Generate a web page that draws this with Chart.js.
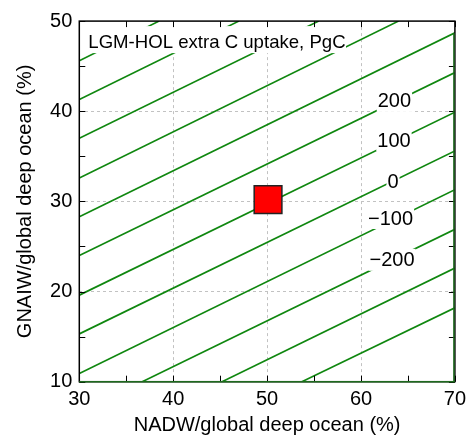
<!DOCTYPE html>
<html>
<head>
<meta charset="utf-8">
<script src="https://cdn.jsdelivr.net/npm/chart.js@4"></script>
<style>
html, body { margin: 0; padding: 0; background: #fff; }
canvas { display: block; }
</style>
</head>
<body>
<canvas id="myChart" width="476" height="437"></canvas>
<script>
var levels     = [700, 600, 500, 400, 300, 200, 100, 0, -100, -200, -300, -400];
var lineStartX = [30, 30, 30, 30, 30, 30, 30, 30, 30, 36.7, 45.2, 53.7];
var lineStartY = [45.6, 41.3, 37.0, 32.6, 28.3, 24.0, 19.6, 15.3, 10.9, 10, 10, 10];
var lineEndX   = [38.5, 47.0, 55.5, 64.0, 70, 70, 70, 70, 70, 70, 70, 70];
var lineEndY   = [50, 50, 50, 50, 48.7, 44.3, 39.9, 35.6, 31.3, 26.9, 22.6, 18.2];

// inline contour labels
var labelText = ['200', '100', '0', '\u2212100', '\u2212200'];
var labelX = [63.56, 63.51, 63.41, 63.15, 63.3];
var labelY = [41.15, 36.78, 32.25, 28.16, 23.52];

// red square (model result)
var markX = [50.1];
var markY = [30.2];

// axis ticks
var xTicks = [30, 40, 50, 60, 70];
var yTicks = [10, 20, 30, 40, 50];
var xMinor = [35, 45, 55, 65];
var yMinor = [15, 25, 35, 45];

var titleText = 'LGM-HOL extra C uptake, PgC';
var fontFam = '"Liberation Sans", Arial, Helvetica, sans-serif';
var green = '#0f870f';

var datasets = [{
    type: 'scatter',
    data: markX.map(function (x, i) { return { x: x, y: markY[i] }; }),
    pointStyle: 'rect',
    pointRadius: 19.6,
    pointBackgroundColor: '#ff0000',
    pointBorderColor: '#222',
    pointBorderWidth: 1.5,
    order: 0
}];

levels.forEach(function (lev, i) {
    datasets.push({
        type: 'line',
        label: String(lev),
        data: [{ x: lineStartX[i], y: lineStartY[i] }, { x: lineEndX[i], y: lineEndY[i] }],
        borderColor: green,
        borderWidth: 1.7,
        pointRadius: 0,
        fill: false,
        order: 1
    });
});

function gridColor(ctx, lo, hi) {
    var v = ctx.tick ? ctx.tick.value : null;
    if (v === null || v <= lo || v >= hi) return 'rgba(0,0,0,0)';
    return '#c2c2c2';
}

// white boxes + text for the labels, drawn over the lines
var labelPlugin = {
    id: 'labels',
    afterDatasetsDraw: function (chart) {
        var c = chart.ctx, a = chart.chartArea;
        var xs = chart.scales.x, ys = chart.scales.y;
        c.save();
        // title box
        c.fillStyle = '#fff';
        c.fillRect(a.left + 1, a.top + 5, 345 - a.left, 27);
        c.fillStyle = '#000';
        c.font = '18.6px ' + fontFam;
        c.textAlign = 'left';
        c.textBaseline = 'alphabetic';
        c.fillText(titleText, a.left + 9, a.top + 26.7);

        c.font = '20px ' + fontFam;
        c.textAlign = 'center';
        c.textBaseline = 'middle';
        labelText.forEach(function (t, i) {
            var px = xs.getPixelForValue(labelX[i]);
            var py = ys.getPixelForValue(labelY[i]);
            var w = c.measureText(t).width;
            c.fillStyle = '#fff';
            c.fillRect(px - w / 2 - 1, py - 11, w + 2, 22);
            c.fillStyle = '#000';
            c.fillText(t, px, py + 1);
        });
        c.restore();
    },
    afterDraw: function (chart) {
        var c = chart.ctx, a = chart.chartArea;
        var xs = chart.scales.x, ys = chart.scales.y;
        var tl = 6;
        c.save();
        c.strokeStyle = '#000';
        c.lineWidth = 1;
        c.beginPath();
        xTicks.concat(xMinor).forEach(function (v) {
            var px = Math.round(xs.getPixelForValue(v)) + 0.5;
            c.moveTo(px, a.bottom); c.lineTo(px, a.bottom - tl);
            c.moveTo(px, a.top); c.lineTo(px, a.top + tl);
        });
        yTicks.concat(yMinor).forEach(function (v) {
            var py = Math.round(ys.getPixelForValue(v)) + 0.5;
            c.moveTo(a.left, py); c.lineTo(a.left + tl, py);
            c.moveTo(a.right, py); c.lineTo(a.right - tl, py);
        });
        c.stroke();
        // frame
        c.lineWidth = 1.5;
        c.strokeRect(a.left, a.top, a.right - a.left, a.bottom - a.top);
        c.strokeStyle = '#1e6a1e';
        c.beginPath();
        c.moveTo(a.left, a.bottom); c.lineTo(a.right, a.bottom);
        c.moveTo(a.right - 1, a.top + 12); c.lineTo(a.right - 1, a.bottom);
        c.stroke();
        c.restore();
    }
};

var config = {
    data: { datasets: datasets },
    options: {
        responsive: false,
        animation: false,
        layout: { padding: { left: 13, right: 12.7, top: 20, bottom: 0 } },
        plugins: {
            legend: { display: false },
            tooltip: { enabled: false }
        },
        scales: {
            x: {
                type: 'linear',
                min: 30,
                max: 70,
                afterBuildTicks: function (s) { s.ticks = xTicks.map(function (v) { return { value: v }; }); },
                afterFit: function (s) { s.height = 55.3; },
                ticks: { autoSkip: false, maxRotation: 0, padding: 6, color: '#000', font: { size: 20, family: fontFam } },
                grid: { drawTicks: false, lineWidth: 1, color: function (ctx) { return gridColor(ctx, 30, 70); } },
                border: { display: false, dash: [3, 3] },
                title: { display: true, text: 'NADW/global deep ocean (%)', color: '#000', padding: 0, font: { size: 20, family: fontFam } }
            },
            y: {
                type: 'linear',
                min: 10,
                max: 50,
                afterBuildTicks: function (s) { s.ticks = yTicks.map(function (v) { return { value: v }; }); },
                afterFit: function (s) { s.width = 66.3; },
                ticks: { autoSkip: false, padding: 7, color: '#000', font: { size: 20, family: fontFam } },
                grid: { drawTicks: false, lineWidth: 1, color: function (ctx) { return gridColor(ctx, 10, 50); } },
                border: { display: false, dash: [3, 3] },
                title: { display: true, text: 'GNAIW/global deep ocean (%)', color: '#000', padding: 0, font: { size: 20, family: fontFam } }
            }
        }
    },
    plugins: [labelPlugin]
};

var myChart = new Chart(document.getElementById('myChart'), config);
</script>
</body>
</html>
